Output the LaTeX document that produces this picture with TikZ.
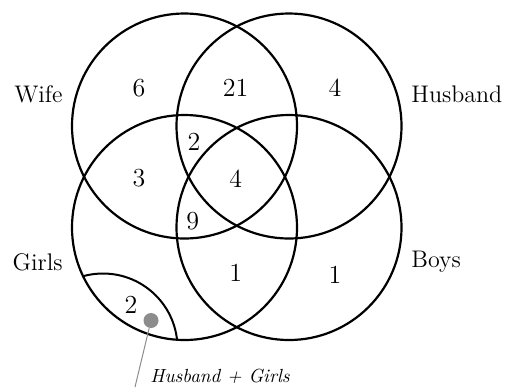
\documentclass[tikz,border=0pt]{standalone}
\usetikzlibrary{positioning}
\tikzset{
  vennset/.style  = {circle, draw=black, line width=1.1pt,
                     minimum size=112.5pt, inner sep=0pt},
  venncnt/.style  = {font=\fontsize{13}{15}\selectfont, inner sep=0pt},
  vennname/.style = {font=\fontsize{12}{14}\selectfont, inner sep=0pt},
  subarc/.style   = {draw=black, line width=1pt},
  notedot/.style  = {circle, fill=black!45, minimum size=7.5pt, inner sep=0pt},
  noteline/.style = {draw=black!45, line width=0.5pt},
  notelbl/.style  = {font=\fontsize{9.5}{11}\selectfont\itshape, inner sep=0pt},
}
\begin{document}
\begin{tikzpicture}[x=0.5pt, y=-0.5pt]
    \useasboundingbox (0,0) rectangle (507,387);

    % the four sets
    \node[vennset] (wife)    at (184.5,126)   {};
    \node[vennset] (husband) at (289,126)     {};
    \node[vennset] (girls)   at (184.5,227.5) {};
    \node[vennset] (boys)    at (289,227.5)   {};

    \node[vennname, anchor=east] (lwife)    at (63,94)   {Wife};
    \node[vennname, anchor=west] (lhusband) at (411,94)  {Husband};
    \node[vennname, anchor=east] (lgirls)   at (63,262)  {Girls};
    \node[vennname, anchor=west] (lboys)    at (411,262) {Boys};

    % husband + girls part, cut out of the girls set
    \begin{scope}
        \clip (girls.center) circle[radius=112.5];
        \draw[subarc] (103,348) circle[radius=74.5];
    \end{scope}

    % counts
    \node[venncnt] (nw)   at (139,88)    {6};
    \node[venncnt] (nwh)  at (235.7,88)  {21};
    \node[venncnt] (nh)   at (335,88)    {4};
    \node[venncnt] (nwhg) at (194,141.7) {2};
    \node[venncnt] (nwg)  at (139,177.7) {3};
    \node[venncnt] (nall) at (235.7,179) {4};
    \node[venncnt] (nwgb) at (192.7,220.7) {9};
    \node[venncnt] (ngb)  at (235.7,272.7) {1};
    \node[venncnt] (nhb)  at (335,275)   {1};
    \node[venncnt] (nhg)  at (131,305)   {2};

    % note
    \node[notedot] (dot) at (151,320.5) {};
    \coordinate (tail) at (135,387);
    \draw[noteline] (dot) -- (tail);
    \node[notelbl, anchor=west] (note) at (150,376) {Husband + Girls};
\end{tikzpicture}
\end{document}
